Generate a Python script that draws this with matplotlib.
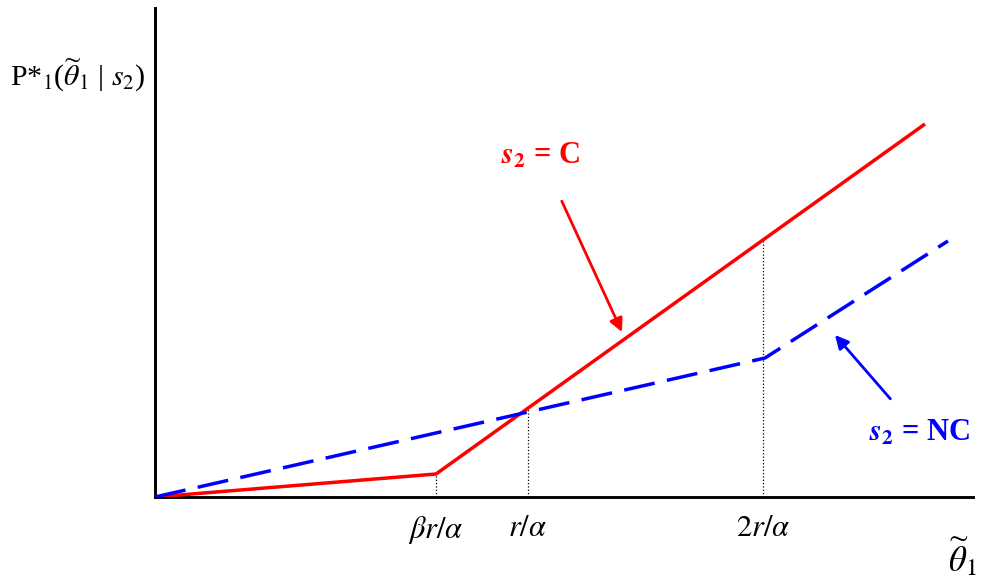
import matplotlib
matplotlib.use('Agg')
import matplotlib.pyplot as plt
import numpy as np

plt.rcParams['font.family'] = ['Liberation Serif', 'DejaVu Serif']
plt.rcParams['mathtext.fontset'] = 'stix'

# schematic units (no numeric scale on the axes)
red_x = [0, 281, 770]
red_y = [0, 23, 373]
blue_x = [0, 610, 793]
blue_y = [0, 139, 256]

tick_pos = [281, 373, 608]
tick_labels = [r'$\beta r/\alpha$', r'$r/\alpha$', r'$2r/\alpha$']

fig = plt.figure(figsize=(9.83, 5.79), dpi=100)
ax = fig.add_axes([155/983, 82/579, 818/983, 489/579])

ax.plot(red_x, red_y, color='#ff0000', lw=2.5, solid_capstyle='butt', zorder=3)
ax.plot(blue_x, blue_y, color='#0000ff', lw=2.5, dashes=(9, 3.6), zorder=3)

# dotted guides up to the red line
for t in tick_pos:
    ax.plot([t, t], [0, np.interp(t, red_x, red_y)], color='black', lw=0.9, ls=':', zorder=2)

ax.set_xlim(0, 818)
ax.set_ylim(0, 489)
for s in ['top', 'right']:
    ax.spines[s].set_visible(False)
for s in ['left', 'bottom']:
    ax.spines[s].set_linewidth(2.1)
ax.set_yticks([])
ax.set_xticks(tick_pos, tick_labels, fontsize=22)
ax.tick_params(axis='x', length=0, pad=12)

fig.text(10/983, 1 - 75/579, r'P*$_1$($\widetilde{\theta}_1$ | $s_2$)', fontsize=21.5, va='center', ha='left')
fig.text(962/983, 1 - 558/579, r'$\widetilde{\theta}_1$', fontsize=25, va='center', ha='center')

ax.annotate(r'$\mathbfit{s}_{\mathbf{2}}$ = C', xy=(467, 165), xytext=(386, 341),
            color='#ff0000', fontsize=22, fontweight='bold', ha='center', va='center',
            arrowprops=dict(arrowstyle='-|>', color='#ff0000', lw=2, mutation_scale=20,
                            shrinkA=22, shrinkB=0))
ax.annotate(r'$\mathbfit{s}_{\mathbf{2}}$ = NC', xy=(680, 162), xytext=(765, 64),
            color='#0000ff', fontsize=22, fontweight='bold', ha='center', va='center',
            arrowprops=dict(arrowstyle='-|>', color='#0000ff', lw=2, mutation_scale=20,
                            shrinkA=16, shrinkB=0))

fig.savefig('out.png', dpi=100)
